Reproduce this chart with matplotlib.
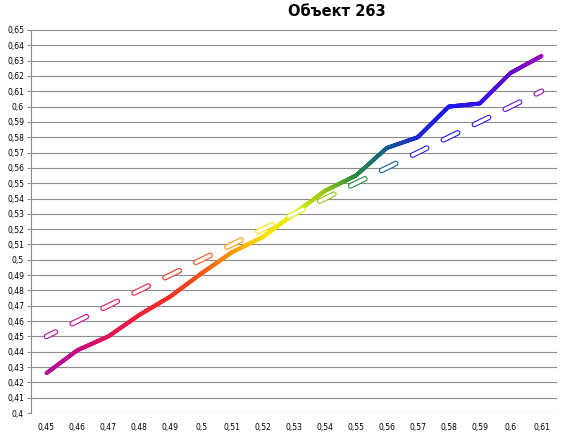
import numpy as np
import matplotlib.pyplot as plt
from matplotlib.collections import LineCollection
from matplotlib.colors import LinearSegmentedColormap

# data
x_labels = ['0,45', '0,46', '0,47', '0,48', '0,49', '0,5', '0,51', '0,52', '0,53',
            '0,54', '0,55', '0,56', '0,57', '0,58', '0,59', '0,6', '0,61']
measured = [0.426, 0.441, 0.450, 0.464, 0.476, 0.491, 0.505, 0.515, 0.530,
            0.545, 0.555, 0.573, 0.580, 0.600, 0.602, 0.622, 0.633]
reference = [0.45, 0.46, 0.47, 0.48, 0.49, 0.50, 0.51, 0.52, 0.53,
             0.54, 0.55, 0.56, 0.57, 0.58, 0.59, 0.60, 0.61]
y_ticks = np.round(np.arange(0.40, 0.651, 0.01), 2)
y_labels = [('%g' % v).replace('.', ',') for v in y_ticks]

# rainbow gradient along the x axis
grad_colors = ['#B0109C', '#C80A82', '#E1145A', '#EB233C', '#F03228', '#F55514',
               '#FA960A', '#FAE100', '#E6EE00', '#96C814', '#288C3C', '#145F91',
               '#1E28D2', '#1919F0', '#3214E6', '#640AD2', '#960AB9']
cmap = LinearSegmentedColormap.from_list('grad', grad_colors)

fig = plt.figure(figsize=(5.66, 4.37), dpi=100)
ax = fig.add_axes([31 / 566, 24 / 437, 526 / 566, 383 / 437])

idx = np.arange(len(x_labels))
n = len(idx) - 1

# solid gradient line
t = np.linspace(0, n, 900)
ym = np.interp(t, idx, measured)
pts = np.column_stack([t, ym]).reshape(-1, 1, 2)
segs = np.concatenate([pts[:-1], pts[1:]], axis=1)
lc = LineCollection(segs, colors=cmap(t[:-1] / n), linewidths=2.9,
                    capstyle='round', joinstyle='round', zorder=3)
ax.add_collection(lc)

# hollow dashes of the reference line
dash_segs, dash_cols = [], []
for i in idx:
    a = max(i - 0.17, 0)
    b = min(i + 0.29, n)
    dash_segs.append([(a, np.interp(a, idx, reference)), (b, np.interp(b, idx, reference))])
    dash_cols.append(cmap(((a + b) / 2) / n))
outer = LineCollection(dash_segs, colors=dash_cols, linewidths=4.0,
                       capstyle='round', zorder=4)
inner = LineCollection(dash_segs, colors='white', linewidths=2.4,
                       capstyle='round', zorder=5)
ax.add_collection(outer)
ax.add_collection(inner)

ax.set_xlim(-0.5, n + 0.5)
ax.set_ylim(0.40, 0.65)
ax.set_xticks(idx)
ax.set_xticklabels(x_labels, fontsize=5.5)
ax.set_yticks(y_ticks)
ax.set_yticklabels(y_labels, fontsize=5.5)
ax.tick_params(axis='x', length=0, pad=7)
ax.tick_params(axis='y', length=3, width=0.75, color='#8C8C8C', pad=2)
ax.yaxis.grid(True, color='#8C8C8C', linewidth=0.8)
ax.set_axisbelow(True)
for s in ['top', 'right', 'bottom']:
    ax.spines[s].set_visible(False)
ax.spines['left'].set_color('#8C8C8C')
ax.spines['left'].set_linewidth(0.8)

fig.text(337 / 566, 1 - 12 / 437, 'Объект 263', fontsize=10.5, fontweight='bold',
         ha='center', va='center')

fig.savefig('out.png', dpi=100)
